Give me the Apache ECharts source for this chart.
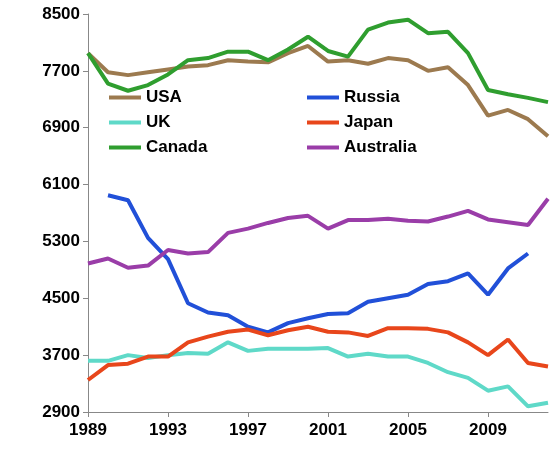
<!DOCTYPE html>
<html><head><meta charset="utf-8">
<script src="https://cdn.jsdelivr.net/npm/echarts@6/dist/echarts.min.js"></script>
<style>html,body{margin:0;padding:0;background:#fff}#c{width:556px;height:460px}</style>
</head><body><div id="c"></div>
<script>
const years = [];
for (let y = 1989; y <= 2012; y++) years.push(String(y));
const usa = [7950,7680,7640,7680,7720,7760,7780,7850,7830,7820,7950,8050,7830,7850,7800,7880,7850,7700,7750,7500,7070,7150,7020,6780];
const canada = [7950,7520,7420,7500,7650,7850,7880,7970,7970,7850,8000,8180,7980,7900,8280,8380,8420,8230,8250,7950,7430,7370,7320,7260];
const russia = [null,5950,5880,5350,5050,4430,4300,4260,4100,4020,4150,4220,4280,4290,4450,4500,4550,4700,4740,4850,4550,4920,5130,null];
const australia = [4990,5060,4930,4960,5180,5130,5150,5420,5480,5560,5630,5660,5480,5600,5600,5620,5590,5580,5650,5730,5610,5570,5530,5900];
const japan = [3350,3560,3580,3680,3680,3880,3960,4030,4060,3980,4050,4100,4030,4020,3970,4080,4080,4070,4020,3880,3700,3920,3590,3540];
const uk = [3620,3620,3700,3660,3700,3730,3720,3880,3760,3790,3790,3790,3800,3680,3720,3680,3680,3590,3460,3380,3200,3260,2980,3030];
const yTicks = {min:2900, max:8500, interval:800};
const mk = (name, data, color) => ({name, type:'line', data, showSymbol:false, symbol:'none',
  lineStyle:{width:4, color}, itemStyle:{color}});
const font = {fontFamily:'Liberation Sans, Arial', fontWeight:'bold', fontSize:17, color:'#000'};
const leg = (left, data) => ({left, top:84, orient:'vertical', itemWidth:32, itemHeight:4, itemGap:8,
  data, icon:'rect', textStyle:font});
echarts.init(document.getElementById('c')).setOption({
  animation:false,
  grid:{left:88, right:8, top:14, bottom:48},
  legend:[leg(104, ['USA','UK','Canada']), leg(302, ['Russia','Japan','Australia'])],
  xAxis:{type:'category', data:years, boundaryGap:false,
    axisLine:{lineStyle:{color:'#888'}}, axisTick:{interval:3, lineStyle:{color:'#888'}},
    axisLabel:Object.assign({interval:3, margin:10}, font)},
  yAxis:{type:'value', min:yTicks.min, max:yTicks.max, interval:yTicks.interval,
    splitLine:{show:false}, axisLine:{show:true, lineStyle:{color:'#888'}},
    axisTick:{show:true, lineStyle:{color:'#888'}},
    axisLabel:Object.assign({margin:8, formatter:v => String(v)}, font)},
  series:[
    mk('USA', usa, '#9c7a4f'),
    mk('Russia', russia, '#2150d8'),
    mk('UK', uk, '#5fd9c8'),
    mk('Japan', japan, '#e8461b'),
    mk('Canada', canada, '#2f9e2f'),
    mk('Australia', australia, '#9a3da8')
  ]
});
</script></body></html>
